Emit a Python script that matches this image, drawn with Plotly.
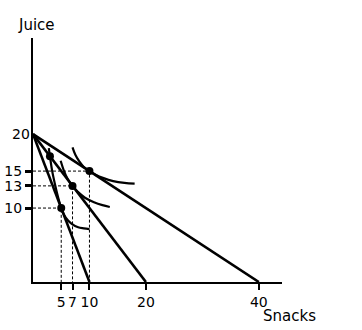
import plotly.graph_objects as go

# Budget lines: common juice intercept and snack intercepts
juice_intercept = 20
snack_intercepts = [10, 20, 40]

# Optimal bundles (snacks, juice)
opt_snacks = [5, 7, 10]
opt_juice = [10, 13, 15]

# Extra marked bundle on the middle budget line
extra_snacks = [3]
extra_juice = [17]

# Indifference curves
ic1_s = [2.8, 3.0, 3.4, 3.9, 4.4, 5.0, 5.8, 6.8, 8.0, 9.0, 10.0]
ic1_j = [18.1, 17.0, 15.0, 13.2, 11.6, 10.0, 8.7, 7.9, 7.4, 7.25, 7.15]
ic2_s = [4.9, 5.5, 6.2, 7.0, 8.0, 9.2, 10.8, 12.3, 13.6]
ic2_j = [16.4, 15.0, 13.85, 13.0, 12.15, 11.4, 10.8, 10.4, 10.15]
ic3_s = [7.0, 7.5, 8.2, 9.0, 10.0, 11.0, 12.5, 14.2, 16.2, 18.0]
ic3_j = [18.2, 17.2, 16.3, 15.55, 15.0, 14.55, 14.05, 13.65, 13.4, 13.3]

x_ticks = [5, 7, 10, 20, 40]
y_ticks = [10, 13, 15]

fig = go.Figure()

# dashed guide lines
for s, j in zip(opt_snacks, opt_juice):
    fig.add_trace(go.Scatter(x=[0, s, s], y=[j, j, 0], mode="lines",
                             line=dict(color="black", width=1, dash="3px,2px"),
                             hoverinfo="skip", showlegend=False))

# budget lines
for xi in snack_intercepts:
    fig.add_trace(go.Scatter(x=[0, xi], y=[juice_intercept, 0], mode="lines",
                             line=dict(color="black", width=2.6),
                             showlegend=False))

# indifference curves
for s, j in [(ic1_s, ic1_j), (ic2_s, ic2_j), (ic3_s, ic3_j)]:
    fig.add_trace(go.Scatter(x=s, y=j, mode="lines",
                             line=dict(color="black", width=2.2, shape="spline"),
                             showlegend=False))

# points
fig.add_trace(go.Scatter(x=opt_snacks + extra_snacks, y=opt_juice + extra_juice,
                         mode="markers", marker=dict(color="black", size=8),
                         showlegend=False))

font = dict(family="DejaVu Sans, sans-serif", size=14, color="black")
big = dict(family="DejaVu Sans, sans-serif", size=15, color="black")

fig.update_layout(
    width=362, height=330,
    margin=dict(l=33, r=80, t=38, b=48, autoexpand=False),
    paper_bgcolor="white", plot_bgcolor="white",
    font=font,
    xaxis=dict(range=[0, 44.1], showline=True, linecolor="black", linewidth=2,
               ticks="outside", ticklen=6, tickwidth=2, tickcolor="black",
               tickvals=x_ticks, ticktext=[str(v) for v in x_ticks],
               showgrid=False, zeroline=False, tickfont=font, automargin=False),
    yaxis=dict(range=[0, 33], showline=True, linecolor="black", linewidth=2,
               ticks="outside", ticklen=6, tickwidth=2.5, tickcolor="black",
               tickvals=y_ticks, ticktext=[str(v) for v in y_ticks],
               showgrid=False, zeroline=False, tickfont=font, automargin=False),
    annotations=[
        dict(text=str(juice_intercept), x=0, xref="paper", xanchor="right", xshift=-1,
             y=juice_intercept, yref="y", yanchor="middle", showarrow=False,
             font=font),
        dict(text="Juice", x=0, xref="paper", xanchor="left", xshift=-17,
             y=1, yref="paper", yanchor="middle", yshift=13, showarrow=False,
             font=big),
        dict(text="Snacks", x=1, xref="paper", xanchor="left", xshift=-21,
             y=0, yref="paper", yanchor="middle", yshift=-34, showarrow=False,
             font=big),
    ],
)

fig.write_html("out.html", config={"displayModeBar": False},
               post_script="document.body.style.margin='0px';document.body.style.overflow='hidden';")
